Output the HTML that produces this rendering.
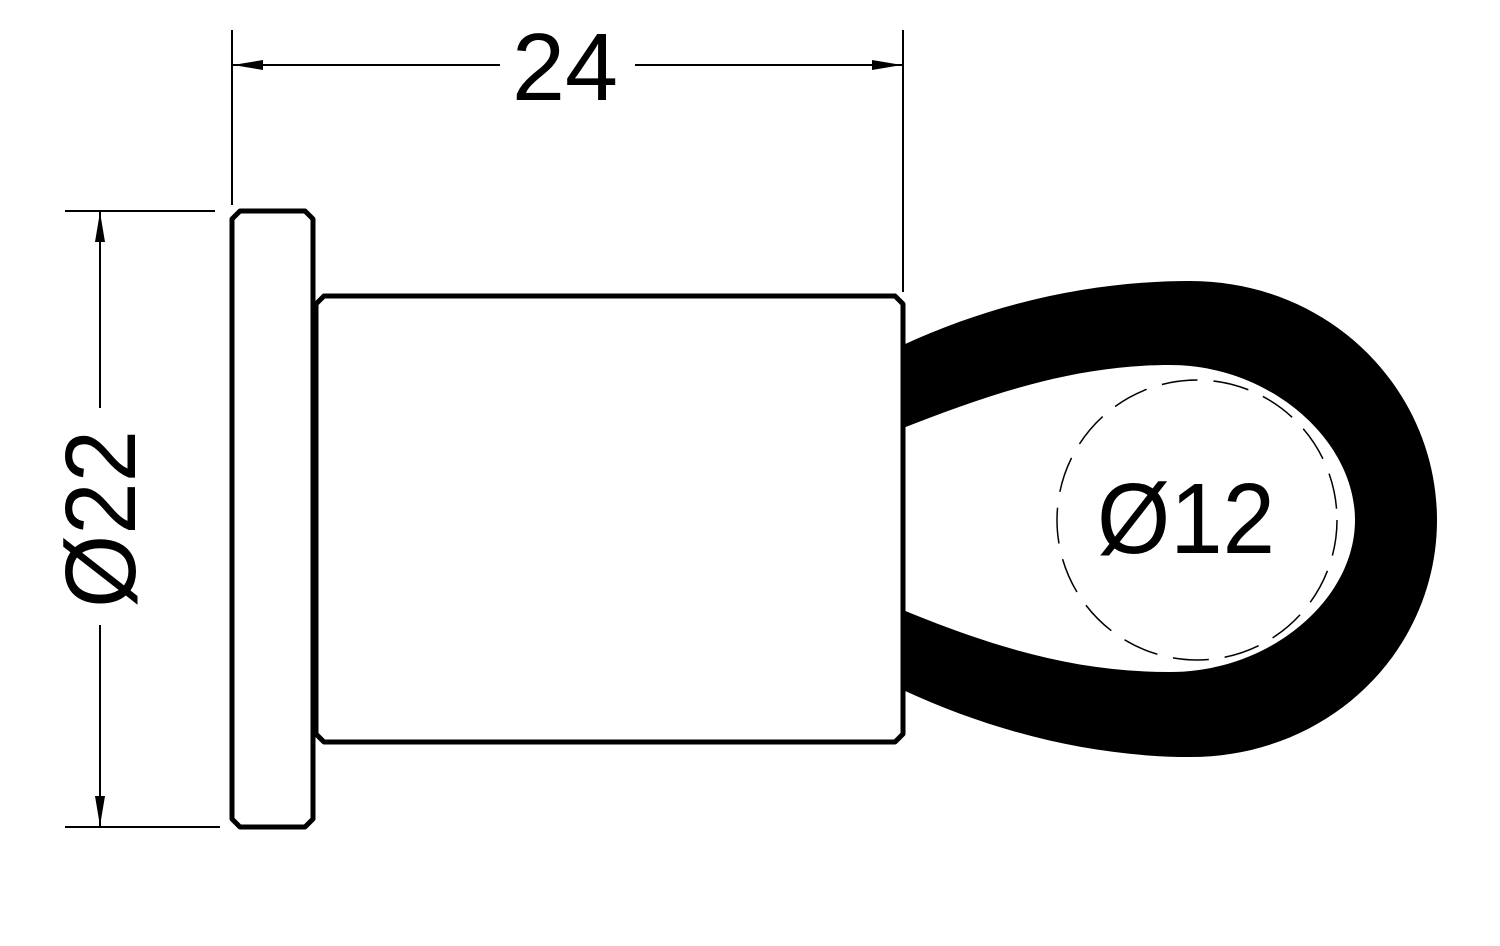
<!DOCTYPE html>
<html><head><style>html,body{margin:0;padding:0;background:#fff}</style></head>
<body>
<svg width="1500" height="941" viewBox="0 0 1500 941" xmlns="http://www.w3.org/2000/svg">
<defs>
<marker id="a" markerWidth="30" markerHeight="12" refX="30" refY="6" orient="auto" markerUnits="userSpaceOnUse">
<path d="M0,1 L30,6 L0,11 Z" fill="#000"/></marker>
</defs>
<g stroke="#000" stroke-width="2" fill="none">
<line x1="232" y1="30" x2="232" y2="205"/>
<line x1="903" y1="30" x2="903" y2="292"/>
<line x1="500" y1="65" x2="233" y2="65" marker-end="url(#a)"/>
<line x1="635" y1="65" x2="902" y2="65" marker-end="url(#a)"/>
<line x1="65" y1="211" x2="215" y2="211"/>
<line x1="65" y1="827" x2="220" y2="827"/>
<line x1="100" y1="408" x2="100" y2="212" marker-end="url(#a)"/>
<line x1="100" y1="625" x2="100" y2="826" marker-end="url(#a)"/>
</g>
<g stroke="#000" stroke-width="5" fill="none" stroke-linejoin="round">
<path d="M240,211 L305,211 L313,219 L313,819 L305,827 L240,827 L232,819 L232,219 Z"/>
<path d="M324,296 L895,296 L903,304 L903,734 L895,742 L324,742 L316,734 L316,304 Z"/>
</g>
<path fill="#000" fill-rule="evenodd" d="M903,345 C1000,300 1100,281 1190,281 C1330,281 1437,390 1437,520 C1437,650 1330,757 1190,757 C1100,757 1000,735 903,690 L903,610 C1000,650 1080,672 1170,672 C1270,672 1355,600 1355,520 C1355,440 1270,365 1170,365 C1080,365 1000,390 903,428 Z"/>
<circle cx="1197" cy="520" r="140" fill="none" stroke="#000" stroke-width="1.5" stroke-dasharray="36,16"/>
<g font-family="Liberation Sans, sans-serif" fill="#000">
<text x="512" y="100" font-size="96" textLength="106" lengthAdjust="spacingAndGlyphs">24</text>
<text x="1097" y="553" font-size="100" textLength="178" lengthAdjust="spacingAndGlyphs">Ø12</text>
<text transform="translate(135,608) rotate(-90)" font-size="100" textLength="178" lengthAdjust="spacingAndGlyphs">Ø22</text>
</g>
</svg>
</body></html>
